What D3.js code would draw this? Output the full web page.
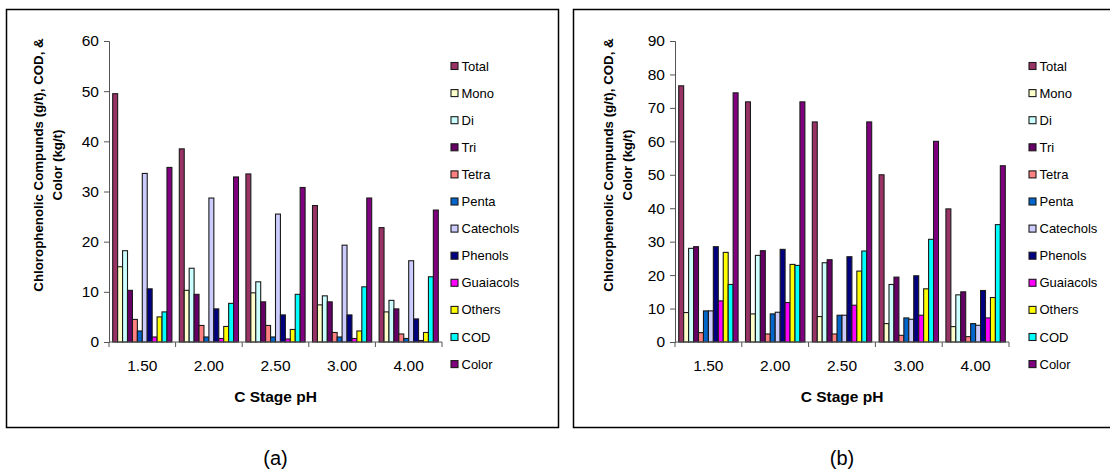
<!DOCTYPE html>
<html>
<head>
<meta charset="utf-8">
<script src="https://cdn.jsdelivr.net/npm/d3@7"></script>
<style>
  html, body { margin: 0; padding: 0; background: #fff; }
  svg { display: block; font-family: "Liberation Sans", Arial, sans-serif; }
</style>
</head>
<body>
<svg id="chart" width="1110" height="470"></svg>
<script>
// categories and series (C stage pH)
const categories = ['1.50', '2.00', '2.50', '3.00', '4.00'];
const seriesNames = ['Total', 'Mono', 'Di', 'Tri', 'Tetra', 'Penta', 'Catechols', 'Phenols', 'Guaiacols', 'Others', 'COD', 'Color'];
const seriesColors = ['#993366', '#ffffcc', '#ccffff', '#660066', '#ff8080', '#0066cc', '#ccccff', '#000080', '#ff00ff', '#ffff00', '#00ffff', '#800080'];

// panel (a): one row per series, one value per category
const valuesA = [
  [49.5, 38.5, 33.5, 27.2, 22.8],   // Total
  [15.0, 10.3, 9.8, 7.4, 6.0],      // Mono
  [18.2, 14.7, 12.0, 9.2, 8.3],     // Di
  [10.3, 9.5, 8.0, 8.0, 6.6],       // Tri
  [4.5, 3.3, 3.3, 1.9, 1.6],        // Tetra
  [2.2, 1.0, 1.0, 1.0, 0.7],        // Penta
  [33.6, 28.7, 25.5, 19.3, 16.2],   // Catechols
  [10.6, 6.6, 5.4, 5.4, 4.6],       // Phenols
  [1.0, 0.7, 0.6, 0.7, 0.3],        // Guaiacols
  [5.0, 3.1, 2.5, 2.2, 1.9],        // Others
  [6.0, 7.7, 9.5, 11.0, 13.0],      // COD
  [34.8, 32.9, 30.8, 28.7, 26.3]    // Color
];
const ticksA = [0, 10, 20, 30, 40, 50, 60];

// panel (b)
const valuesB = [
  [76.6, 71.8, 65.8, 50.0, 39.8],   // Total
  [8.8, 8.4, 7.6, 5.5, 4.6],        // Mono
  [28.0, 25.9, 23.7, 17.2, 14.1],   // Di
  [28.5, 27.3, 24.6, 19.4, 15.0],   // Tri
  [2.8, 2.4, 2.4, 2.0, 1.6],        // Tetra
  [9.3, 8.4, 8.0, 7.2, 5.5],        // Penta
  [9.3, 8.9, 8.0, 6.8, 5.0],        // Catechols
  [28.5, 27.7, 25.5, 19.8, 15.4],   // Phenols
  [12.3, 11.8, 11.0, 8.0, 7.2],     // Guaiacols
  [26.8, 23.2, 21.2, 15.9, 13.3],   // Others
  [17.2, 22.9, 27.2, 30.7, 35.1],   // COD
  [74.5, 71.8, 65.8, 60.0, 52.7]    // Color
];
const ticksB = [0, 10, 20, 30, 40, 50, 60, 70, 80, 90];

const yTitle = ['Chlorophenolic Compunds (g/t), COD, &', 'Color (kg/t)'];
const xTitle = 'C Stage pH';

const svg = d3.select('#chart');

function drawPanel(cfg) {
  const g = svg.append('g');

  // outer frame
  g.append('rect')
    .attr('x', cfg.frame[0] + 0.5).attr('y', 9.5)
    .attr('width', cfg.frame[1]).attr('height', 418)
    .attr('fill', '#fff').attr('stroke', '#000').attr('stroke-width', 1.5);

  const x = d3.scaleBand().domain(categories).range([cfg.left, cfg.right]);
  const bw = x.bandwidth();
  const barW = bw / 13.5;
  const xs = d3.scaleBand().domain(seriesNames)
    .range([barW * 0.75, bw - barW * 0.75]);
  const y = d3.scaleLinear().domain([0, d3.max(cfg.ticks)]).range([342, 41]);

  // bars
  seriesNames.forEach((name, si) => {
    g.append('g').selectAll('rect')
      .data(cfg.values[si])
      .join('rect')
      .attr('x', (d, i) => x(categories[i]) + xs(name))
      .attr('y', d => y(d))
      .attr('width', xs.bandwidth())
      .attr('height', d => y(0) - y(d))
      .attr('fill', seriesColors[si])
      .attr('stroke', '#1a1a1a')
      .attr('stroke-width', 1.1);
  });

  // y axis
  const yAxis = g.append('g')
    .attr('transform', `translate(${cfg.left},0)`)
    .call(d3.axisLeft(y).tickValues(cfg.ticks).tickSize(5).tickPadding(5).tickFormat(d3.format('d')));
  yAxis.select('.domain').attr('stroke', '#555');
  yAxis.selectAll('.tick line').attr('stroke', '#555');
  yAxis.selectAll('text').attr('font-size', 15.5).attr('font-family', '"Liberation Sans", Arial, sans-serif').attr('fill', '#000');

  // x axis with ticks on category boundaries
  const xAxisG = g.append('g').attr('transform', 'translate(0,342)');
  xAxisG.append('line')
    .attr('x1', cfg.left).attr('x2', cfg.right)
    .attr('stroke', '#555');
  xAxisG.selectAll('.bound')
    .data(categories.concat(['end']))
    .join('line')
    .attr('x1', (d, i) => i < categories.length ? x(d) : cfg.right)
    .attr('x2', (d, i) => i < categories.length ? x(d) : cfg.right)
    .attr('y1', 0).attr('y2', 5)
    .attr('stroke', '#555');
  xAxisG.selectAll('.lbl')
    .data(categories)
    .join('text')
    .attr('x', d => x(d) + bw / 2)
    .attr('y', 28.5)
    .attr('text-anchor', 'middle')
    .attr('font-size', 15.5)
    .text(d => d);

  // axis titles
  g.append('text')
    .attr('x', (cfg.left + cfg.right) / 2).attr('y', 401.5)
    .attr('text-anchor', 'middle')
    .attr('font-size', 15.5).attr('font-weight', 'bold')
    .text(xTitle);

  yTitle.forEach((t, i) => {
    g.append('text')
      .attr('transform', `translate(${cfg.ytx[i]},165) rotate(-90)`)
      .attr('text-anchor', 'middle')
      .attr('dominant-baseline', 'central')
      .attr('font-size', 13.3).attr('font-weight', 'bold')
      .text(t);
  });

  // legend
  const legend = g.append('g').attr('transform', `translate(${cfg.legendX},0)`);
  seriesNames.forEach((name, i) => {
    const cy = 66 + i * 27.1;
    legend.append('rect')
      .attr('x', 0.5).attr('y', cy - 3.5)
      .attr('width', 7).attr('height', 7)
      .attr('fill', seriesColors[i])
      .attr('stroke', '#1a1a1a').attr('stroke-width', 1.1);
    legend.append('text')
      .attr('x', 11).attr('y', cy)
      .attr('dominant-baseline', 'central')
      .attr('font-size', 13)
      .text(name);
  });

  // caption
  svg.append('text')
    .attr('x', (cfg.left + cfg.right) / 2).attr('y', 465)
    .attr('text-anchor', 'middle')
    .attr('font-size', 20)
    .text(cfg.caption);
}

drawPanel({
  frame: [6, 552], left: 109, right: 442,
  values: valuesA, ticks: ticksA,
  ytx: [38, 57], legendX: 450.5, caption: '(a)'
});

drawPanel({
  frame: [573, 560], left: 675, right: 1009,
  values: valuesB, ticks: ticksB,
  ytx: [608, 627], legendX: 1028.5, caption: '(b)'
});
</script>
</body>
</html>
